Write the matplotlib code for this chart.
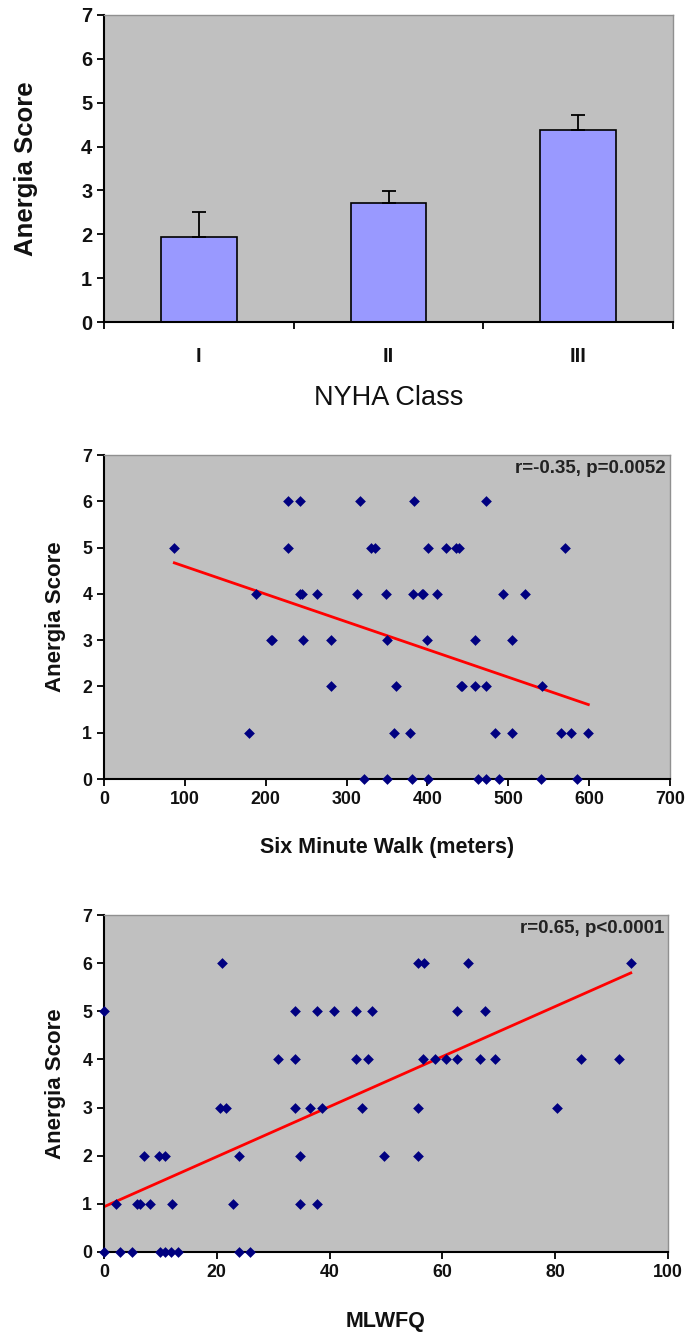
import matplotlib
matplotlib.use("Agg")
import matplotlib.pyplot as plt
from matplotlib import font_manager
import numpy as np

plt.rcParams['font.family'] = ['Liberation Sans', 'DejaVu Sans']
_names = {f.name for f in font_manager.fontManager.ttflist}
NARROW = 'Liberation Sans Narrow' if 'Liberation Sans Narrow' in _names else 'Liberation Sans'
NSCALE = 1.0 if NARROW == 'Liberation Sans Narrow' else 0.85

# ---- data ----
nyha_classes = ["I", "II", "III"]
nyha_means = [1.93, 2.72, 4.37]
nyha_err = [0.57, 0.26, 0.35]

walk_x = [228, 242, 317, 383, 472,
          87, 227, 330, 335, 401, 423, 435, 439, 570,
          188, 242, 245, 263, 313, 349, 382, 393, 395, 412, 493, 521,
          206, 208, 246, 281, 350, 399, 459, 505,
          281, 361, 441, 443, 459, 473, 542,
          179, 359, 378, 483, 505, 565, 577, 599,
          321, 350, 381, 401, 462, 473, 488, 541, 585]
walk_y = [6, 6, 6, 6, 6,
          5, 5, 5, 5, 5, 5, 5, 5, 5,
          4, 4, 4, 4, 4, 4, 4, 4, 4, 4, 4, 4,
          3, 3, 3, 3, 3, 3, 3, 3,
          2, 2, 2, 2, 2, 2, 2,
          1, 1, 1, 1, 1, 1, 1, 1,
          0, 0, 0, 0, 0, 0, 0, 0, 0]
walk_fit = (5.19, -0.00598)   # intercept, slope
walk_stat = "r=-0.35, p=0.0052"

mlw_x = [20.9, 55.6, 56.8, 64.5, 93.4,
         0, 33.8, 37.7, 40.8, 44.6, 47.5, 62.6, 67.6,
         30.8, 33.8, 44.6, 46.8, 56.6, 58.6, 60.6, 62.6, 66.6, 69.4, 84.5, 91.3,
         20.6, 21.6, 33.8, 36.5, 38.7, 45.8, 55.6, 80.3,
         7.1, 9.7, 10.9, 24.0, 34.8, 49.7, 55.6,
         2.1, 5.9, 6.3, 8.1, 12.1, 22.9, 34.8, 37.7,
         0, 2.9, 5.0, 9.9, 10.9, 11.9, 13.1, 24.0, 25.9]
mlw_y = [6, 6, 6, 6, 6,
         5, 5, 5, 5, 5, 5, 5, 5,
         4, 4, 4, 4, 4, 4, 4, 4, 4, 4, 4, 4,
         3, 3, 3, 3, 3, 3, 3, 3,
         2, 2, 2, 2, 2, 2, 2,
         1, 1, 1, 1, 1, 1, 1, 1,
         0, 0, 0, 0, 0, 0, 0, 0, 0]
mlw_fit = (0.94, 0.052)
mlw_stat = "r=0.65, p<0.0001"

BG = "#C0C0C0"
W, H = 690, 1335
fig = plt.figure(figsize=(W / 100, H / 100), dpi=100)


def ax_at(l, t, r, b):
    return fig.add_axes([l / W, 1 - b / H, (r - l) / W, (b - t) / H])


def style(ax):
    ax.set_facecolor(BG)
    for s in ("top", "right"):
        ax.spines[s].set_color("#909090")
        ax.spines[s].set_linewidth(1.0)
    for s in ("left", "bottom"):
        ax.spines[s].set_color("black")
        ax.spines[s].set_linewidth(1.5)
    ax.tick_params(direction="out", length=5, width=1.3, colors="black")


def tick_font(ax, size):
    for lab in ax.get_yticklabels() + ax.get_xticklabels():
        lab.set_fontfamily([NARROW, 'DejaVu Sans'])
        lab.set_fontsize(size * NSCALE)
        lab.set_fontweight("bold")
        lab.set_color("#111111")


# ---- top: bar chart ----
ax1 = ax_at(104, 15, 673, 322)
style(ax1)
xpos = np.arange(len(nyha_classes))
ax1.bar(xpos, nyha_means, width=0.4, color="#9999FF", edgecolor="black", linewidth=1.2, zorder=2)
ax1.errorbar(xpos, nyha_means, yerr=[np.zeros(3), nyha_err], fmt="none", ecolor="black",
             elinewidth=1.3, capsize=5, capthick=1.3, zorder=3)
ax1.set_xlim(-0.5, 2.5)
ax1.set_ylim(0, 7)
ax1.set_yticks(range(8))
ax1.set_xticks(xpos)
ax1.set_xticklabels(nyha_classes)
ax1.set_xticks([-0.5, 0.5, 1.5, 2.5], minor=True)
ax1.tick_params(axis="x", which="major", length=0, pad=18)
ax1.tick_params(axis="x", which="minor", length=5, width=1.3, direction="out")
tick_font(ax1, 17)
ax1.set_xlabel("NYHA Class", fontsize=19.5, labelpad=14, color="#111111")
ax1.set_ylabel("Anergia Score", fontsize=18.5, fontweight="bold", labelpad=31, color="#111111")


def scatter_panel(box, xs, ys, fit, stat, xmax, xstep, xlabel, xlabelpad):
    ax = ax_at(*box)
    style(ax)
    ax.scatter(xs, ys, marker="D", s=30, color="#000080", zorder=3, clip_on=False, linewidths=0)
    xx = np.array([min(xs), max(xs)])
    ax.plot(xx, fit[0] + fit[1] * xx, color="red", linewidth=2, zorder=2)
    ax.set_xlim(0, xmax)
    ax.set_ylim(0, 7)
    ax.set_xticks(np.arange(0, xmax + 1, xstep))
    ax.set_yticks(range(8))
    tick_font(ax, 15)
    ax.set_xlabel(xlabel, fontsize=15.5, fontweight="bold", labelpad=xlabelpad, color="#111111")
    ax.set_ylabel("Anergia Score", fontsize=16, fontweight="bold", labelpad=12, color="#111111")
    ax.text(0.993, 0.985, stat, transform=ax.transAxes, ha="right", va="top",
            fontsize=13.5, fontweight="bold", color="#222222")
    return ax


scatter_panel((104, 455, 670, 779), walk_x, walk_y, walk_fit, walk_stat, 700, 100,
              "Six Minute Walk (meters)", 21)
scatter_panel((104, 915, 668, 1252), mlw_x, mlw_y, mlw_fit, mlw_stat, 100, 20, "MLWFQ", 22)

fig.savefig("out.png", dpi=100)
